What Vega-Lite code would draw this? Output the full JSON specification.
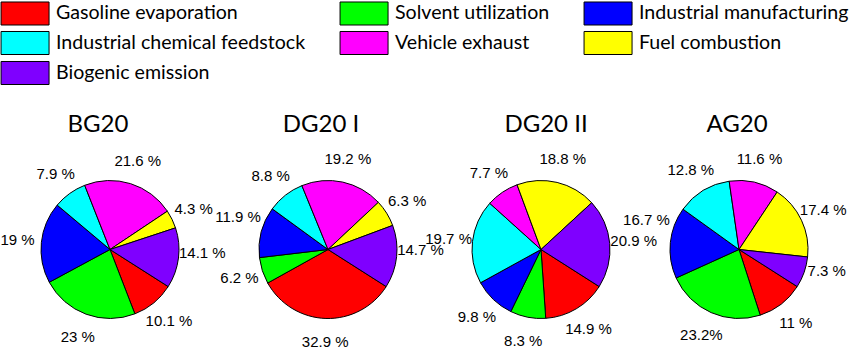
{
  "$schema": "https://vega.github.io/schema/vega-lite/v6.json",
  "padding": {"top": -2.5, "left": 0, "right": 0, "bottom": 0},
  "background": "white",
  "spacing": 0,
  "bounds": "flush",
  "data": {"values": [
    {"site": "BG20", "source": "Gasoline evaporation", "k": 1, "value": 10.1, "label": "10.1 %"},
    {"site": "BG20", "source": "Solvent utilization", "k": 2, "value": 23, "label": "23 %"},
    {"site": "BG20", "source": "Industrial manufacturing", "k": 3, "value": 19, "label": "19 %"},
    {"site": "BG20", "source": "Industrial chemical feedstock", "k": 4, "value": 7.9, "label": "7.9 %"},
    {"site": "BG20", "source": "Vehicle exhaust", "k": 5, "value": 21.6, "label": "21.6 %"},
    {"site": "BG20", "source": "Fuel combustion", "k": 6, "value": 4.3, "label": "4.3 %"},
    {"site": "BG20", "source": "Biogenic emission", "k": 7, "value": 14.1, "label": "14.1 %"},
    {"site": "DG20 I", "source": "Gasoline evaporation", "k": 1, "value": 32.9, "label": "32.9 %"},
    {"site": "DG20 I", "source": "Solvent utilization", "k": 2, "value": 6.2, "label": "6.2 %"},
    {"site": "DG20 I", "source": "Industrial manufacturing", "k": 3, "value": 11.9, "label": "11.9 %"},
    {"site": "DG20 I", "source": "Industrial chemical feedstock", "k": 4, "value": 8.8, "label": "8.8 %"},
    {"site": "DG20 I", "source": "Vehicle exhaust", "k": 5, "value": 19.2, "label": "19.2 %"},
    {"site": "DG20 I", "source": "Fuel combustion", "k": 6, "value": 6.3, "label": "6.3 %"},
    {"site": "DG20 I", "source": "Biogenic emission", "k": 7, "value": 14.7, "label": "14.7 %"},
    {"site": "DG20 II", "source": "Gasoline evaporation", "k": 1, "value": 14.9, "label": "14.9 %"},
    {"site": "DG20 II", "source": "Solvent utilization", "k": 2, "value": 8.3, "label": "8.3 %"},
    {"site": "DG20 II", "source": "Industrial manufacturing", "k": 3, "value": 9.8, "label": "9.8 %"},
    {"site": "DG20 II", "source": "Industrial chemical feedstock", "k": 4, "value": 19.7, "label": "19.7 %"},
    {"site": "DG20 II", "source": "Vehicle exhaust", "k": 5, "value": 7.7, "label": "7.7 %"},
    {"site": "DG20 II", "source": "Fuel combustion", "k": 6, "value": 18.8, "label": "18.8 %"},
    {"site": "DG20 II", "source": "Biogenic emission", "k": 7, "value": 20.9, "label": "20.9 %"},
    {"site": "AG20", "source": "Gasoline evaporation", "k": 1, "value": 11, "label": "11 %"},
    {"site": "AG20", "source": "Solvent utilization", "k": 2, "value": 23.2, "label": "23.2%"},
    {"site": "AG20", "source": "Industrial manufacturing", "k": 3, "value": 16.7, "label": "16.7 %"},
    {"site": "AG20", "source": "Industrial chemical feedstock", "k": 4, "value": 12.8, "label": "12.8 %"},
    {"site": "AG20", "source": "Vehicle exhaust", "k": 5, "value": 11.6, "label": "11.6 %"},
    {"site": "AG20", "source": "Fuel combustion", "k": 6, "value": 17.4, "label": "17.4 %"},
    {"site": "AG20", "source": "Biogenic emission", "k": 7, "value": 7.3, "label": "7.3 %"}
  ]},
  "resolve": {"scale": {"color": "shared", "theta": "independent"}},
  "hconcat": [
    {
      "width": 218, "height": 190,
      "title": {"text": "BG20", "dx": -12},
      "transform": [{"filter": "datum.site === 'BG20'"}],
      "encoding": {
        "theta": {"field": "value", "type": "quantitative", "stack": true, "scale": {"range": [2.138, 8.421]}},
        "order": {"field": "k", "type": "quantitative"}
      },
      "layer": [
        {"mark": {"type": "arc", "outerRadius": 69, "stroke": "black", "strokeWidth": 1},
         "encoding": {"color": {"field": "source", "type": "nominal", "title": null,
           "scale": {"domain": ["Gasoline evaporation", "Solvent utilization", "Industrial manufacturing", "Industrial chemical feedstock", "Vehicle exhaust", "Fuel combustion", "Biogenic emission"],
                     "range": ["#FF0000", "#00FF00", "#0000FF", "#00FFFF", "#FF00FF", "#FFFF00", "#7F00FF"]}}}},
        {"mark": {"type": "text", "radius": 0, "dy": -115, "fontSize": 15, "baseline": "middle"},
         "encoding": {"text": {"value": ""}, "detail": {"field": "source"}}},
        {"mark": {"type": "text", "radius": 93, "font": "Liberation Sans", "fontSize": 15, "fill": "black", "align": "center", "baseline": "middle"},
         "encoding": {"text": {"condition": {"test": "datum.source === 'Biogenic emission'", "value": ""}, "field": "label"}, "detail": {"field": "source"}}},
        {"mark": {"type": "text", "radius": 93, "dy": -8, "font": "Liberation Sans", "fontSize": 15, "fill": "black", "align": "center", "baseline": "middle"},
         "encoding": {"text": {"condition": {"test": "datum.source !== 'Biogenic emission'", "value": ""}, "field": "label"}, "detail": {"field": "source"}}}
      ]
    },
    {
      "width": 218, "height": 190,
      "title": {"text": "DG20 I", "dx": -7},
      "transform": [{"filter": "datum.site === 'DG20 I'"}],
      "encoding": {
        "theta": {"field": "value", "type": "quantitative", "stack": true, "scale": {"range": [2.138, 8.421]}},
        "order": {"field": "k", "type": "quantitative"}
      },
      "layer": [
        {"mark": {"type": "arc", "outerRadius": 69, "stroke": "black", "strokeWidth": 1},
         "encoding": {"color": {"field": "source", "type": "nominal"}}},
        {"mark": {"type": "text", "radius": 0, "dy": -115, "fontSize": 15, "baseline": "middle"},
         "encoding": {"text": {"value": ""}, "detail": {"field": "source"}}},
        {"mark": {"type": "text", "radius": 93, "font": "Liberation Sans", "fontSize": 15, "fill": "black", "align": "center", "baseline": "middle"},
         "encoding": {"text": {"condition": {"test": "datum.source === 'Biogenic emission' || datum.source === 'Industrial manufacturing'", "value": ""}, "field": "label"}, "detail": {"field": "source"}}},
        {"mark": {"type": "text", "radius": 93, "dy": -9, "font": "Liberation Sans", "fontSize": 15, "fill": "black", "align": "center", "baseline": "middle"},
         "encoding": {"text": {"condition": {"test": "datum.source !== 'Biogenic emission' && datum.source !== 'Industrial manufacturing'", "value": ""}, "field": "label"}, "detail": {"field": "source"}}}
      ]
    },
    {
      "width": 208, "height": 190,
      "title": {"text": "DG20 II", "dx": 5},
      "transform": [{"filter": "datum.site === 'DG20 II'"}],
      "encoding": {
        "theta": {"field": "value", "type": "quantitative", "stack": true, "scale": {"range": [2.138, 8.421]}},
        "order": {"field": "k", "type": "quantitative"}
      },
      "layer": [
        {"mark": {"type": "arc", "outerRadius": 69, "stroke": "black", "strokeWidth": 1},
         "encoding": {"color": {"field": "source", "type": "nominal"}}},
        {"mark": {"type": "text", "radius": 0, "dy": -115, "fontSize": 15, "baseline": "middle"},
         "encoding": {"text": {"value": ""}, "detail": {"field": "source"}}},
        {"mark": {"type": "text", "radius": 93, "font": "Liberation Sans", "fontSize": 15, "fill": "black", "align": "center", "baseline": "middle"},
         "encoding": {"text": {"field": "label"}, "detail": {"field": "source"}}}
      ]
    },
    {
      "width": 188, "height": 190,
      "title": {"text": "AG20", "dx": -2},
      "transform": [{"filter": "datum.site === 'AG20'"}],
      "encoding": {
        "theta": {"field": "value", "type": "quantitative", "stack": true, "scale": {"range": [2.138, 8.421]}},
        "order": {"field": "k", "type": "quantitative"}
      },
      "layer": [
        {"mark": {"type": "arc", "outerRadius": 69, "stroke": "black", "strokeWidth": 1},
         "encoding": {"color": {"field": "source", "type": "nominal"}}},
        {"mark": {"type": "text", "radius": 0, "dy": -115, "fontSize": 15, "baseline": "middle"},
         "encoding": {"text": {"value": ""}, "detail": {"field": "source"}}},
        {"mark": {"type": "text", "radius": 93, "font": "Liberation Sans", "fontSize": 15, "fill": "black", "align": "center", "baseline": "middle"},
         "encoding": {"text": {"condition": {"test": "datum.source === 'Biogenic emission' || datum.source === 'Industrial manufacturing'", "value": ""}, "field": "label"}, "detail": {"field": "source"}}},
        {"mark": {"type": "text", "radius": 93, "dy": -9, "font": "Liberation Sans", "fontSize": 15, "fill": "black", "align": "center", "baseline": "middle"},
         "encoding": {"text": {"condition": {"test": "datum.source !== 'Biogenic emission'", "value": ""}, "field": "label"}, "detail": {"field": "source"}}},
        {"mark": {"type": "text", "radius": 93, "dy": -20, "font": "Liberation Sans", "fontSize": 15, "fill": "black", "align": "center", "baseline": "middle"},
         "encoding": {"text": {"condition": {"test": "datum.source !== 'Industrial manufacturing'", "value": ""}, "field": "label"}, "detail": {"field": "source"}}}
      ]
    }
  ],
  "config": {
    "view": {"stroke": null},
    "title": {"font": "Lato", "fontSize": 24, "fontWeight": "normal", "color": "black", "anchor": "middle", "frame": "group", "baseline": "alphabetic", "offset": -9},
    "legend": {
      "orient": "none", "legendX": 0, "legendY": -157,
      "direction": "horizontal", "columns": 3,
      "symbolType": "M-1.03,-0.767H2.17V0.767H-1.03Z", "symbolSize": 900,
      "symbolStrokeColor": "black", "symbolStrokeWidth": 1, "symbolOpacity": 1,
      "labelFont": "Lato", "labelFontSize": 19.6, "labelColor": "black", "labelOffset": 24,
      "labelLimit": 400, "columnPadding": 32, "rowPadding": -2, "padding": 0
    }
  }
}
